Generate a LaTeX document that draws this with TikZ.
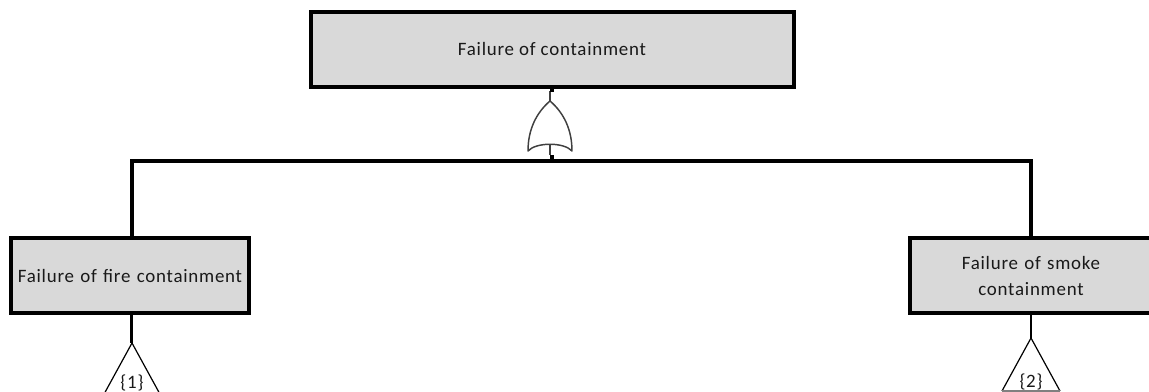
\documentclass[tikz,border=0pt]{standalone}
\usepackage{fontspec}
\setmainfont{Carlito}[LetterSpace=4]
\usetikzlibrary{positioning}

\begin{document}
\begin{tikzpicture}[
        x=0.75pt,
        y=0.75pt,
        every node/.style={font=\fontsize{14.2pt}{19pt}\selectfont, text=black!90},
        event/.style={rectangle, draw=black, fill=black!15, line width=3pt, align=center},
        bus/.style={line width=3pt},
        stub/.style={line width=2pt},
        gate/.style={line width=1.1pt, draw=black!75, line join=round},
        symbol/.style={line width=0.9pt}
    ]
    \path[use as bounding box, clip] (0,0) rectangle (1149,392);

    % Events
    \node[event, minimum width=362.25pt, minimum height=56.25pt] (top) at (552,342.5) {Failure of containment};
    \node[event, minimum width=178.5pt, minimum height=56.25pt, text width=172pt] (fire) at (130,116) {Failure of fire containment};
    \node[event, minimum width=181pt, minimum height=56.25pt, text width=150pt] (smoke) at (1031,116) {Failure of smoke\\containment};

    % Gate points
    \coordinate (apex) at (550,291);
    \coordinate (gateleft) at (528,241);
    \coordinate (gateright) at (572,241);
    \coordinate (inner) at (550,248);
    \coordinate (gatefoot) at (550,237);
    \coordinate (junction) at (552,231);
    \coordinate (busfire) at (131.5,231);

    % Or gate
    \draw[gate] (apex) .. controls (536,279) and (528,262) .. (gateleft)
        .. controls (536,250) and (564,250) .. (gateright)
        .. controls (572,262) and (564,279) .. (apex);
    \draw[gate] (apex) -- (550,301);
    \draw[gate] (inner) -- (gatefoot);
    \draw[stub, line width=3pt] (top.south -| junction) -- +(0,-3);
    \draw[stub, line width=3pt] (junction) -- +(0,6);

    % Bus
    \draw[bus] (busfire |- fire.north) -- (busfire) -- (junction) -| (smoke.north);

    % Triangles
    \coordinate (tipfire) at (132,49);
    \coordinate (tipsmoke) at (1031,54);
    \draw[stub] (busfire |- fire.south) -- (busfire |- tipfire);
    \draw[stub] (smoke.south) -- (tipsmoke);
    \draw[symbol] (tipfire) -- (103,-4) (tipfire) -- (161,-4);
    \draw[symbol] (1002,1) -- (tipsmoke) -- (1060,1);
    \draw[symbol, black!50] (1002,1) -- (1060,1);
    \node (one) at (132,9) {\{1\}};
    \node (two) at (1031,10) {\{2\}};
\end{tikzpicture}
\end{document}
